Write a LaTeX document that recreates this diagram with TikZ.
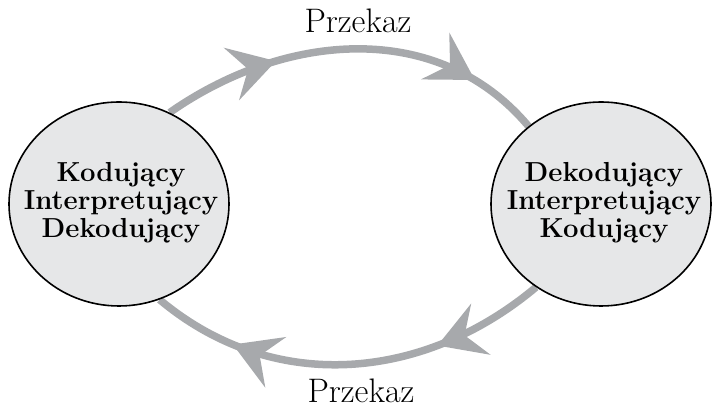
\documentclass[tikz,border=0pt]{standalone}
\usetikzlibrary{shapes.geometric,arrows.meta,decorations.markings,backgrounds}
\definecolor{flowgray}{HTML}{A7A9AC}
\definecolor{blobfill}{HTML}{E6E7E8}
\tikzset{
  blob/.style={ellipse,draw=black,line width=1.6pt,fill=blobfill,
    minimum width=220pt,minimum height=204pt,inner sep=0pt},
  role/.style={align=center,font=\fontsize{27.5}{28}\selectfont\bfseries},
  msg/.style={font=\fontsize{34}{38}\selectfont,anchor=base,inner sep=0pt},
  flow/.style 2 args={color=flowgray,line width=7.5pt,postaction={decorate},
    decoration={markings,
      mark=at position #1 with {\arrow{Stealth[length=46pt,width=54pt,inset=17pt]}},
      mark=at position #2 with {\arrow{Stealth[length=46pt,width=54pt,inset=17pt]}}}},
}
\begin{document}
\begin{tikzpicture}[x=1pt,y=1pt]
      \useasboundingbox (0,0) rectangle (712,411);
      \node[blob] (L) at (119,207) {};
      \node[blob] (R) at (601,207) {};
      \node[role] (Ltxt) at (121,208) {Kodujący\\Interpretujący\\Dekodujący};
      \node[role] (Rtxt) at (604,208) {Dekodujący\\Interpretujący\\Kodujący};
      \node[msg] (top) at (358,378) {Przekaz};
      \node[msg] (bot) at (361,8) {Przekaz};
      \begin{pgfonlayer}{background}
        \draw[flow={0.3}{0.82}] (L.61) to[out=35,in=130] (R.133);
        \draw[flow={0.28}{0.79}] (R.232) to[out=220,in=320] (L.293);
      \end{pgfonlayer}
    \end{tikzpicture}
\end{document}
